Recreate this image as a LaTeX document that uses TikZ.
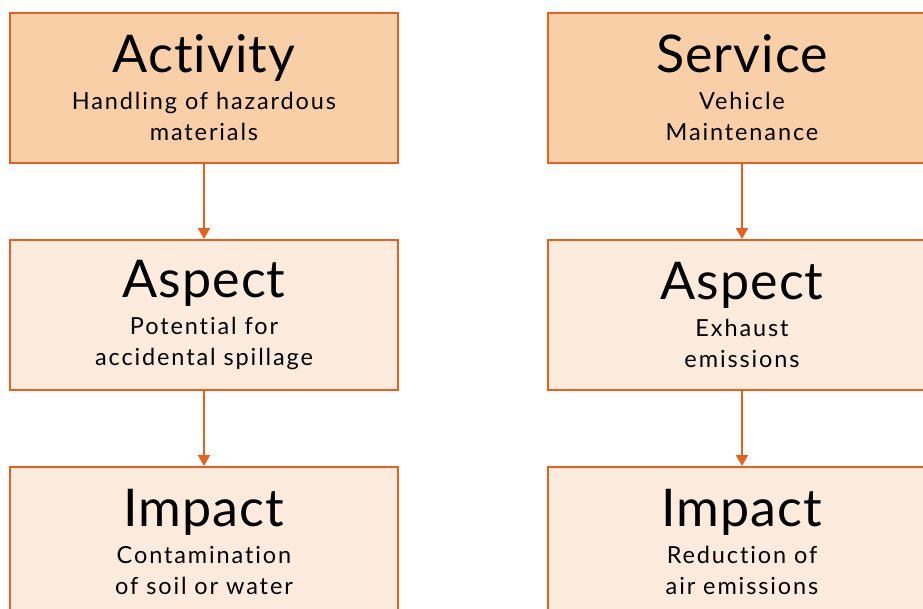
\documentclass[tikz,border=0pt]{standalone}
\usepackage{fontspec}
\setmainfont{Lato}[Ligatures={NoCommon,NoRare}]
\usetikzlibrary{positioning, arrows.meta}

\definecolor{edgeorange}{HTML}{E8601C}
\definecolor{headfill}{HTML}{F9CFA7}
\definecolor{bodyfill}{HTML}{FDEBDD}

\tikzset{
box/.style={draw=edgeorange, line width=2pt, minimum width=388pt, minimum height=150pt, inner sep=0pt, align=center, font=\fontsize{23.5}{31}\selectfont\addfontfeature{LetterSpace=8}},
headbox/.style={box, fill=headfill},
bodybox/.style={box, fill=bodyfill},
flow/.style={draw=edgeorange, line width=2pt, -{Triangle[length=11pt, width=12pt]}}
}
\newcommand{\boxtitle}[1]{{\fontsize{52}{56}\selectfont\addfontfeature{LetterSpace=2}#1}\\[6pt]}

\begin{document}
\begin{tikzpicture}
\clip (0,0) rectangle (923pt,-608pt);
\useasboundingbox (0,0) rectangle (923pt,-608pt);
\node[headbox] (act) at (204pt,-88pt) {\boxtitle{Activity}Handling of hazardous\\materials};
\node[bodybox, below=75pt of act] (asp1) {\boxtitle{Aspect}Potential for\\accidental spillage};
\node[bodybox, below=75pt of asp1] (imp1) {\boxtitle{Impact}Contamination\\of soil or water};
\node[headbox] (serv) at (742pt,-88pt) {\boxtitle{Service}Vehicle\\Maintenance};
\node[bodybox, below=75pt of serv] (asp2) {\boxtitle{Aspect}Exhaust\\emissions};
\node[bodybox, below=75pt of asp2] (imp2) {\boxtitle{Impact}Reduction of\\air emissions};
\draw[flow] (act) -- (asp1);
\draw[flow] (asp1) -- (imp1);
\draw[flow] (serv) -- (asp2);
\draw[flow] (asp2) -- (imp2);
\end{tikzpicture}
\end{document}
